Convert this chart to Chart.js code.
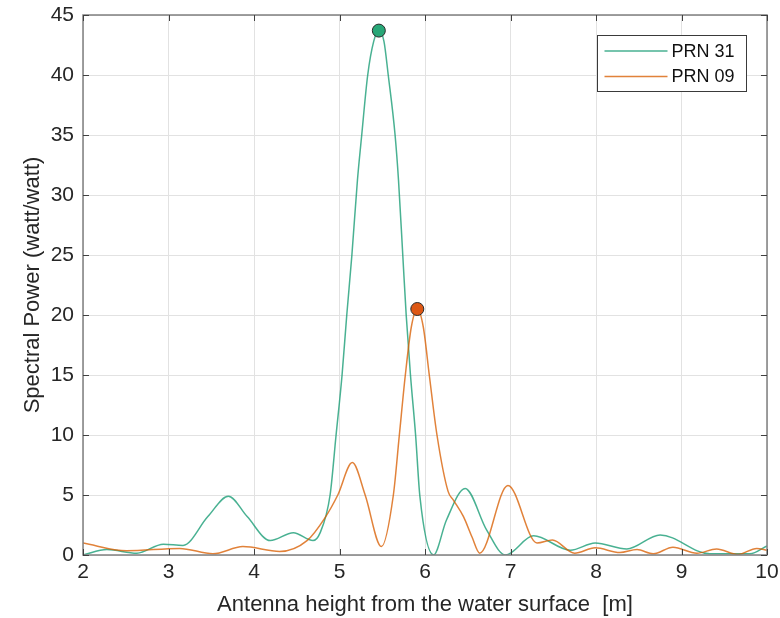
<!DOCTYPE html>
<html>
<head>
<meta charset="utf-8">
<script src="https://cdn.jsdelivr.net/npm/chart.js@4.4.1/dist/chart.umd.min.js"></script>
<style>
  html, body { margin: 0; padding: 0; background: #fff; }
  #wrap { width: 780px; height: 618px; }
</style>
</head>
<body>
<div id="wrap"><canvas id="chart" width="780" height="618"></canvas></div>
<script>
// values
const xTicks = [2, 3, 4, 5, 6, 7, 8, 9, 10];
const yTicks = [0, 5, 10, 15, 20, 25, 30, 35, 40, 45];
const seriesNames = ['PRN 31', 'PRN 09'];

const prn31X = [2.0, 2.28, 2.63, 2.94, 3.17, 3.46, 3.70, 3.92, 4.19, 4.46, 4.69, 4.77, 4.89, 4.96, 5.03, 5.085,
  5.145, 5.21, 5.26, 5.33, 5.40, 5.46, 5.52, 5.57, 5.65, 5.69, 5.74, 5.78, 5.83, 5.89, 5.94, 6.10, 6.25, 6.47, 6.72,
  6.94, 7.27, 7.70, 7.99, 8.36, 8.75, 9.33, 9.8, 10.0];
const prn31Y = [0.0, 0.45, 0.15, 0.9, 0.8, 3.2, 4.9, 3.2, 1.2, 1.85, 1.2, 1.8, 5, 10, 15, 20,
  25, 31.25, 35, 40, 42.8, 43.7, 42.8, 40, 35, 31.25, 25, 20, 15, 10, 4.9, 0, 2.9, 5.55, 2.1,
  0, 1.6, 0.4, 1.0, 0.5, 1.67, 0.1, 0.1, 0.75];

const prn09X = [2.0, 2.51, 3.13, 3.52, 3.87, 4.30, 4.62, 4.83, 4.98, 5.15, 5.30, 5.49, 5.63, 5.70, 5.77,
  5.84, 5.91, 5.98, 6.05, 6.14, 6.27, 6.33, 6.45, 6.55, 6.64, 6.97, 7.31, 7.49, 7.75, 7.99, 8.28, 8.48,
  8.67, 8.90, 9.18, 9.41, 9.66, 9.88, 10.0];
const prn09Y = [1.0, 0.35, 0.55, 0.1, 0.7, 0.3, 1.2, 3.1, 5, 7.7, 5, 0.7, 5, 10, 15,
  19, 20.5, 19, 15, 10, 5.3, 4.6, 3.2, 1.5, 0.15, 5.8, 1.0, 1.25, 0.15, 0.6, 0.2, 0.45,
  0.1, 0.65, 0.15, 0.5, 0.05, 0.55, 0.4];

const lineColors = ['rgba(27,158,119,0.8)', 'rgba(217,95,2,0.78)'];
const markerColors = ['#27a777', '#dd5714'];

function toPoints(xs, ys) {
  return xs.map((x, i) => ({ x: x, y: ys[i] }));
}
function peakOf(xs, ys) {
  let k = 0;
  ys.forEach((v, i) => { if (v > ys[k]) k = i; });
  return [{ x: xs[k], y: ys[k] }];
}

const fontFamily = '"Liberation Sans", Arial, sans-serif';

// box, inward ticks and legend, MATLAB style
const boxPlugin = {
  id: 'box',
  afterDraw(chart) {
    const ctx = chart.ctx;
    const a = chart.chartArea;
    const xs = chart.scales.x, ys = chart.scales.y;
    ctx.save();
    ctx.strokeStyle = '#808080';
    ctx.lineWidth = 1.5;
    ctx.strokeRect(a.left, a.top, a.right - a.left, a.bottom - a.top);
    ctx.strokeStyle = '#404040';
    ctx.lineWidth = 1;
    const t = 6;
    xTicks.forEach(v => {
      const p = Math.round(xs.getPixelForValue(v)) + 0.5;
      ctx.beginPath();
      ctx.moveTo(p, a.bottom); ctx.lineTo(p, a.bottom - t);
      ctx.moveTo(p, a.top); ctx.lineTo(p, a.top + t);
      ctx.stroke();
    });
    yTicks.forEach(v => {
      const p = Math.round(ys.getPixelForValue(v)) + 0.5;
      ctx.beginPath();
      ctx.moveTo(a.left, p); ctx.lineTo(a.left + t, p);
      ctx.moveTo(a.right, p); ctx.lineTo(a.right - t, p);
      ctx.stroke();
    });

    // legend
    const lx = 597.5, ly = 35.5, lw = 149, lh = 56;
    ctx.fillStyle = '#fff';
    ctx.fillRect(lx, ly, lw, lh);
    ctx.strokeStyle = '#3a3a3a';
    ctx.lineWidth = 1;
    ctx.strokeRect(lx, ly, lw, lh);
    ctx.font = '18px ' + fontFamily;
    ctx.textBaseline = 'middle';
    seriesNames.forEach((name, i) => {
      const y = ly + 15.5 + i * 25.5;
      ctx.strokeStyle = lineColors[i];
      ctx.lineWidth = 1.5;
      ctx.beginPath();
      ctx.moveTo(lx + 7, y); ctx.lineTo(lx + 70, y);
      ctx.stroke();
      ctx.fillStyle = '#111';
      ctx.fillText(name, lx + 74, y + 1);
    });
    ctx.restore();
  }
};

new Chart(document.getElementById('chart'), {
  type: 'line',
  data: {
    datasets: [
      {
        label: seriesNames[0],
        data: toPoints(prn31X, prn31Y),
        borderColor: lineColors[0],
        borderWidth: 1.5,
        pointRadius: 0,
        cubicInterpolationMode: 'monotone',
        order: 3
      },
      {
        label: seriesNames[1],
        data: toPoints(prn09X, prn09Y),
        borderColor: lineColors[1],
        borderWidth: 1.5,
        pointRadius: 0,
        cubicInterpolationMode: 'monotone',
        order: 2
      },
      {
        type: 'scatter',
        label: 'peak31',
        data: peakOf(prn31X, prn31Y),
        backgroundColor: markerColors[0],
        borderColor: '#2a2a2a',
        borderWidth: 1,
        pointRadius: 6.5,
        order: 1
      },
      {
        type: 'scatter',
        label: 'peak09',
        data: peakOf(prn09X, prn09Y),
        backgroundColor: markerColors[1],
        borderColor: '#2a2a2a',
        borderWidth: 1,
        pointRadius: 6.5,
        order: 0
      }
    ]
  },
  options: {
    responsive: false,
    animation: false,
    layout: { padding: { top: 15, right: 13, left: 0, bottom: 0 } },
    plugins: {
      legend: { display: false },
      tooltip: { enabled: false }
    },
    scales: {
      x: {
        type: 'linear',
        min: 2,
        max: 10,
        afterBuildTicks: s => { s.ticks = xTicks.map(v => ({ value: v })); },
        afterFit: s => { s.height = 63; s.paddingLeft = 0; s.paddingRight = 0; },
        grid: { color: '#e2e2e2', drawTicks: false },
        border: { display: false },
        ticks: { color: '#262626', font: { family: fontFamily, size: 21 }, padding: 5, maxRotation: 0 },
        title: {
          display: true,
          text: 'Antenna height from the water surface  [m]',
          color: '#262626',
          font: { family: fontFamily, size: 22 },
          padding: { top: -3, bottom: 0 }
        }
      },
      y: {
        min: 0,
        max: 45,
        afterBuildTicks: s => { s.ticks = yTicks.map(v => ({ value: v })); },
        afterFit: s => { s.width = 83; s.paddingTop = 0; s.paddingBottom = 0; },
        grid: { color: '#e2e2e2', drawTicks: false },
        border: { display: false },
        ticks: { color: '#262626', font: { family: fontFamily, size: 21 }, padding: 9 },
        title: {
          display: true,
          text: 'Spectral Power (watt/watt)',
          color: '#262626',
          font: { family: fontFamily, size: 22 },
          padding: { top: 20, bottom: 0 }
        }
      }
    }
  },
  plugins: [boxPlugin]
});
</script>
</body>
</html>
